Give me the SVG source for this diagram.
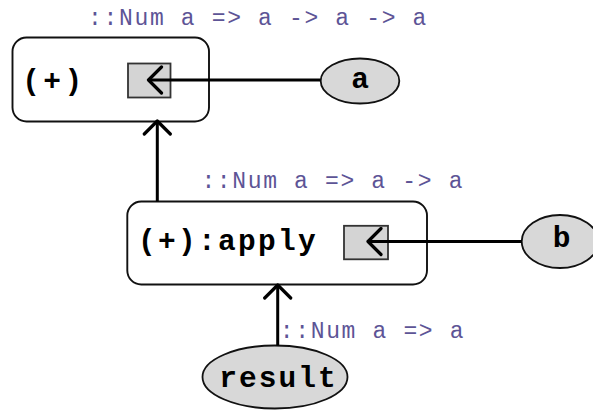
<svg xmlns="http://www.w3.org/2000/svg" width="593" height="412" viewBox="0 0 593 412">
  <defs>
    <marker id="chevron" markerUnits="userSpaceOnUse" markerWidth="30" markerHeight="30" viewBox="-16 -15 18 30" refX="0" refY="0" orient="auto">
      <path d="M -13 -13 L 0 0 L -13 13" fill="none" stroke="#000" stroke-width="3.2" stroke-linejoin="round" stroke-linecap="round"/>
    </marker>
    <style>
      .box { fill: #fff; stroke: #111; stroke-width: 1.9; }
      .port { fill: #d4d4d4; stroke: #333; stroke-width: 1.8; }
      .value { fill: #d8d8d8; stroke: #111; stroke-width: 1.8; }
      .name { font-family: "Liberation Mono", "DejaVu Sans Mono", monospace; font-weight: bold; fill: #000; font-size: 29.5px; }
      .type { font-family: "Liberation Mono", "DejaVu Sans Mono", monospace; fill: #5d5496; font-size: 23px; letter-spacing: 1.65px; }
      .wire { fill: none; stroke: #000; stroke-width: 3; marker-end: url(#chevron); }
    </style>
  </defs>

  <!-- type annotations -->
  <text class="type" x="88.1" y="25">::Num a =&gt; a -&gt; a -&gt; a</text>
  <text class="type" x="201.4" y="188.3">::Num a =&gt; a -&gt; a</text>
  <text class="type" x="279.8" y="338">::Num a =&gt; a</text>

  <!-- function node (+) -->
  <g id="plus">
    <rect class="box" x="12.5" y="37.5" width="196.5" height="84" rx="14"/>
    <rect class="port" x="128" y="63.5" width="42.5" height="34"/>
    <text class="name" x="22.2" y="90" letter-spacing="3.45">(+)</text>
  </g>

  <!-- partially applied node (+):apply -->
  <g id="plus-apply">
    <rect class="box" x="127.3" y="201.5" width="299.7" height="83" rx="14"/>
    <rect class="port" x="344" y="225.8" width="44" height="33.5"/>
    <text class="name" x="137.9" y="250" letter-spacing="2.3">(+):apply</text>
  </g>

  <!-- argument a -->
  <g id="arg-a">
    <ellipse class="value" cx="360" cy="81" rx="39.3" ry="22.5"/>
    <text class="name" x="360" y="88" text-anchor="middle">a</text>
  </g>

  <!-- argument b -->
  <g id="arg-b">
    <ellipse class="value" cx="560" cy="241.5" rx="38.3" ry="26.5"/>
    <text class="name" x="561.7" y="247" text-anchor="middle">b</text>
  </g>

  <!-- result -->
  <g id="result">
    <ellipse class="value" cx="275" cy="377" rx="72.5" ry="31.5"/>
    <text class="name" x="219.2" y="387" letter-spacing="2.05">result</text>
  </g>

  <!-- connectors -->
  <g id="connectors">
    <line class="wire" x1="320.7" y1="80" x2="148.5" y2="80"/>
    <line class="wire" x1="521.8" y1="241.5" x2="368" y2="241.5"/>
    <line class="wire" x1="157.3" y1="201.5" x2="157.3" y2="121"/>
    <line class="wire" x1="277.7" y1="345.5" x2="277.7" y2="285"/>
  </g>
</svg>
